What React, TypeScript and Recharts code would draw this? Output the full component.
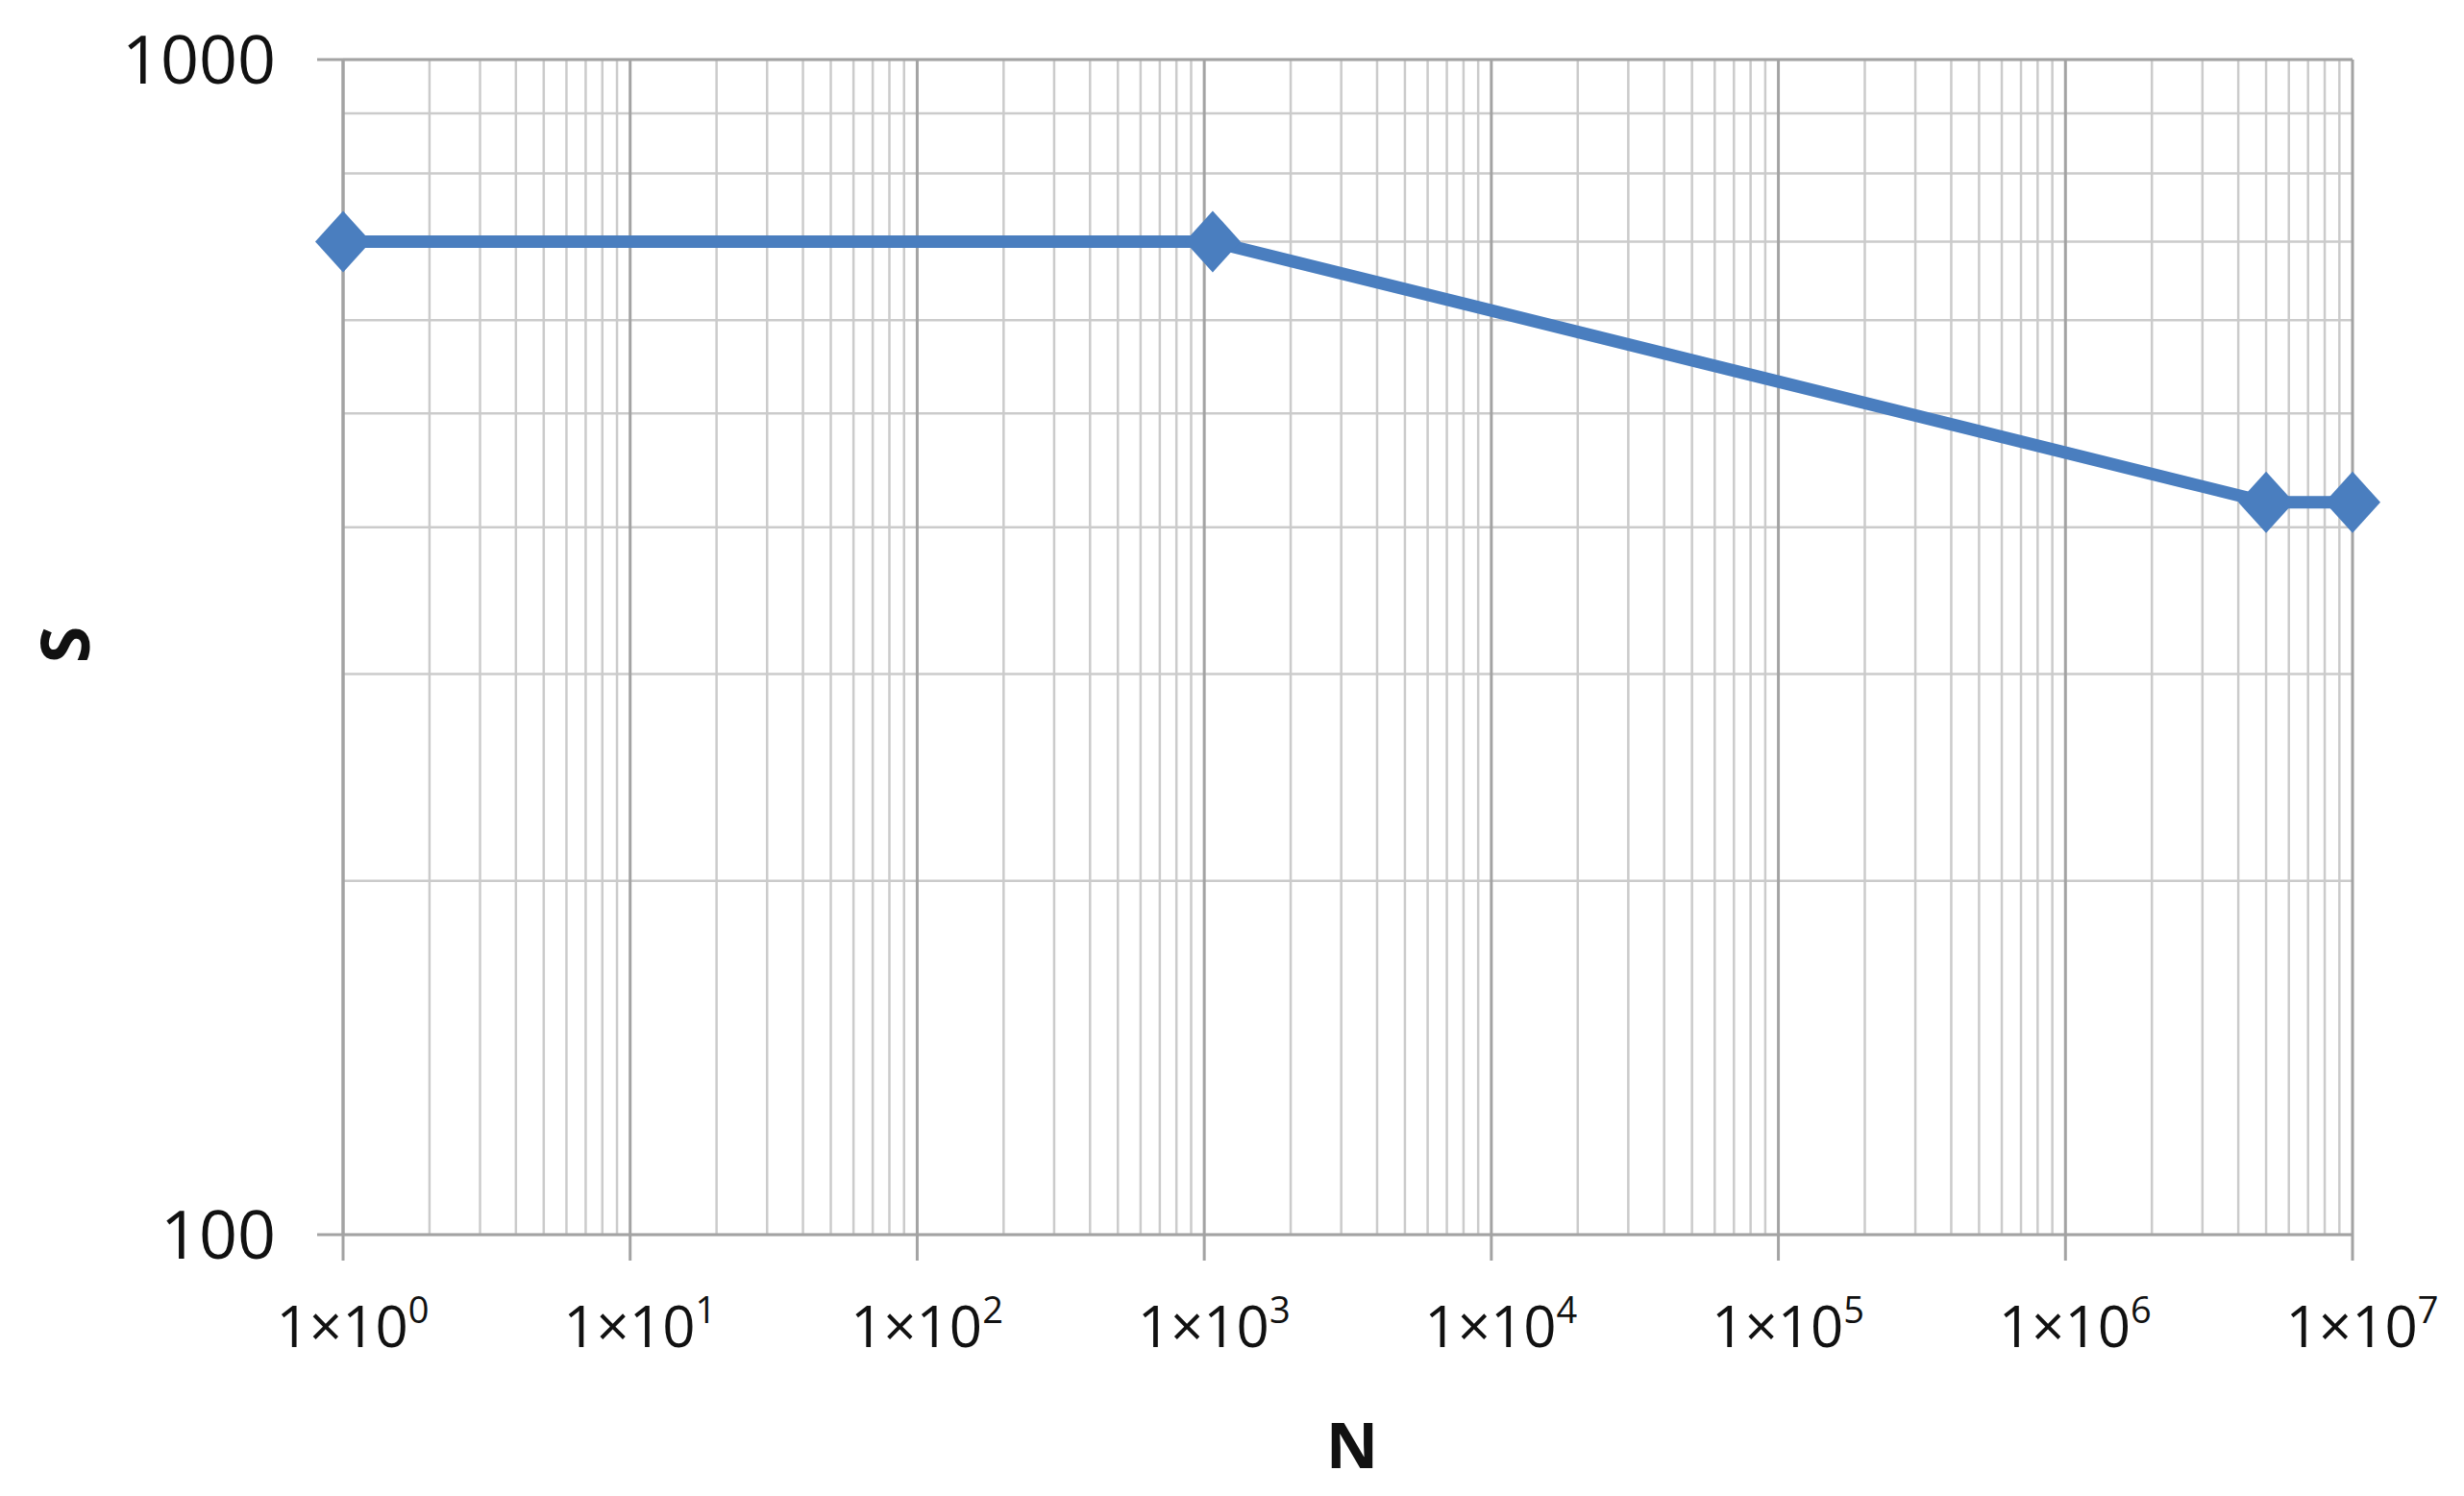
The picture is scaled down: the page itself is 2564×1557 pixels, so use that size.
import React from 'react';
import { LineChart, Line, XAxis, YAxis, CartesianGrid, Label } from 'recharts';

const nValues = [1, 1070, 5e6, 1e7];
const sValues = [700, 700, 420, 420];

const xTicks = [1, 10, 100, 1e3, 1e4, 1e5, 1e6, 1e7];
const yTicks = [100, 1000];
const yGridValues = [100, 200, 300, 400, 500, 600, 700, 800, 900, 1000];
const minorSteps = [2, 3, 4, 5, 6, 7, 8, 9];

const FONT = '"Open Sans", "Liberation Sans", sans-serif';
const BLUE = '#4a7ebf';
const AXIS = '#a3a3a3';
const MINOR = '#cbcbcb';

const data = nValues.map((n, i) => ({ n, s: sValues[i] }));
const xMinorGrid = xTicks.slice(0, -1).flatMap((d) => minorSteps.map((m) => d * m));

const Diamond = (props: any) => {
  const { cx, cy } = props;
  if (cx == null || cy == null) return null;
  return (
    <polygon
      points={`${cx},${cy - 32} ${cx + 29},${cy} ${cx},${cy + 32} ${cx - 29},${cy}`}
      fill={BLUE}
    />
  );
};

const PowerTick = (props: any) => {
  const { x, y, payload } = props;
  const exp = Math.round(Math.log10(payload.value));
  return (
    <text x={x + 10} y={y + 88} textAnchor="middle" fontFamily={FONT} fontSize={60} fill="#111">
      1×10
      <tspan dy={-25} fontSize={38}>{exp}</tspan>
    </text>
  );
};

export default function App() {
  return (
    <div style={{ width: 2548, height: 1541, background: '#fff' }}>
      <LineChart width={2548} height={1541} data={data} margin={{ top: 54, right: 108, left: 0, bottom: 64 }}>
        <CartesianGrid
          stroke={MINOR}
          strokeWidth={2.5}
          horizontalValues={yGridValues}
          verticalValues={xMinorGrid}
        />
        <CartesianGrid
          stroke={AXIS}
          strokeWidth={3}
          horizontalValues={[1000]}
          verticalValues={xTicks}
        />
        <XAxis
          dataKey="n"
          type="number"
          scale="log"
          domain={[1, 1e7]}
          ticks={xTicks}
          height={200}
          tickSize={27}
          tickMargin={2}
          axisLine={{ stroke: AXIS, strokeWidth: 3 }}
          tickLine={{ stroke: AXIS, strokeWidth: 3 }}
          tick={<PowerTick />}
          interval={0}
        >
          <Label
            content={() => (
              <text x={1399} y={1520} textAnchor="middle" fontFamily={FONT} fontWeight="bold" fontSize={67} fill="#111">
                N
              </text>
            )}
          />
        </XAxis>
        <YAxis
          dataKey="s"
          type="number"
          scale="log"
          domain={[100, 1000]}
          ticks={yTicks}
          width={349}
          tickSize={27}
          tickMargin={43}
          axisLine={{ stroke: AXIS, strokeWidth: 3 }}
          tickLine={{ stroke: AXIS, strokeWidth: 3 }}
          tick={{ fontFamily: FONT, fontSize: 70, fill: '#111' }}
          interval={0}
        >
          <Label
            content={() => (
              <text
                transform="translate(85, 663) rotate(-90)"
                textAnchor="middle"
                fontFamily={FONT}
                fontWeight="bold"
                fontSize={70}
                fill="#111"
              >
                S
              </text>
            )}
          />
        </YAxis>
        <Line
          type="linear"
          dataKey="s"
          stroke={BLUE}
          strokeWidth={13}
          dot={<Diamond />}
          activeDot={false}
          isAnimationActive={false}
        />
      </LineChart>
    </div>
  );
}
